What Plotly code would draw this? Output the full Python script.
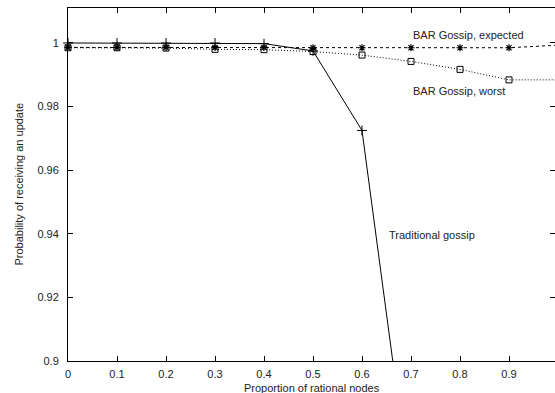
import plotly.graph_objects as go

x_trad = [0, 0.1, 0.2, 0.3, 0.4, 0.5, 0.6, 0.7]
y_trad = [1.0, 1.0, 1.0, 1.0, 0.9998, 0.9975, 0.9725, 0.857]

x_bar = [0, 0.1, 0.2, 0.3, 0.4, 0.5, 0.6, 0.7, 0.8, 0.9, 1.0]
y_expected = [0.9986, 0.9986, 0.9986, 0.9986, 0.9986, 0.9985, 0.9985, 0.9985, 0.9985, 0.9985, 0.9993]
y_worst = [0.9985, 0.9985, 0.9984, 0.9980, 0.9979, 0.9973, 0.9962, 0.9942, 0.9917, 0.9884, 0.9884]

x_ticks = [0, 0.1, 0.2, 0.3, 0.4, 0.5, 0.6, 0.7, 0.8, 0.9]
y_ticks = [0.9, 0.92, 0.94, 0.96, 0.98, 1.0]

FONT = "Liberation Sans, Arial, sans-serif"

fig = go.Figure()
fig.add_trace(go.Scatter(x=x_trad, y=y_trad, mode="lines+markers",
                         line=dict(color="black", width=1),
                         marker=dict(symbol="cross-thin-open", size=7, color="black", line=dict(width=1, color="black")),
                         cliponaxis=False, showlegend=False))
fig.add_trace(go.Scatter(x=x_bar, y=y_expected, mode="lines+markers",
                         line=dict(color="black", width=1, dash="3px,3px"),
                         marker=dict(symbol="asterisk-open", size=6, color="black", line=dict(width=1.2, color="black")),
                         cliponaxis=False, showlegend=False))
fig.add_trace(go.Scatter(x=x_bar, y=y_worst, mode="lines+markers",
                         line=dict(color="black", width=1, dash="1px,2px"),
                         marker=dict(symbol="square-open", size=6, color="black", line=dict(width=1, color="black")),
                         cliponaxis=False, showlegend=False))

ann_font = dict(family=FONT, size=11, color="#222")
fig.add_annotation(x=0.7, y=1.0025, text="BAR Gossip, expected", showarrow=False,
                   xanchor="left", yanchor="middle", font=ann_font)
fig.add_annotation(x=0.7, y=0.985, text="BAR Gossip, worst", showarrow=False,
                   xanchor="left", yanchor="middle", font=ann_font)
fig.add_annotation(x=0.65, y=0.9395, text="Traditional gossip", showarrow=False,
                   xanchor="left", yanchor="middle", font=ann_font)
fig.add_annotation(xref="paper", yref="paper", x=0.5, y=0, yshift=-27,
                   text="Proportion of rational nodes", showarrow=False,
                   xanchor="center", yanchor="middle", font=ann_font)
fig.add_annotation(xref="paper", yref="paper", x=0, xshift=-50, y=0.5,
                   text="Probability of receiving an update", showarrow=False, textangle=-90,
                   xanchor="center", yanchor="middle", font=ann_font)

axis_common = dict(showgrid=False, zeroline=False, showline=True, linecolor="black", linewidth=1,
                   mirror="ticks", ticks="inside", ticklen=5, tickcolor="black", tickwidth=1,
                   tickfont=dict(family=FONT, size=11, color="#222"))
fig.update_xaxes(range=[0, 487/490], tickvals=x_ticks, ticktext=[f"{v:g}" for v in x_ticks],
                 ticklabelstandoff=3, **axis_common)
fig.update_yaxes(range=[0.9, 1.011], tickvals=y_ticks, ticktext=[f"{v:g}" for v in y_ticks],
                 ticklabelstandoff=6, **axis_common)

fig.update_layout(width=555, height=393, margin=dict(l=68, r=0, t=8, b=32),
                  plot_bgcolor="white", paper_bgcolor="white", font=dict(family=FONT))
fig.write_html("out.html")
